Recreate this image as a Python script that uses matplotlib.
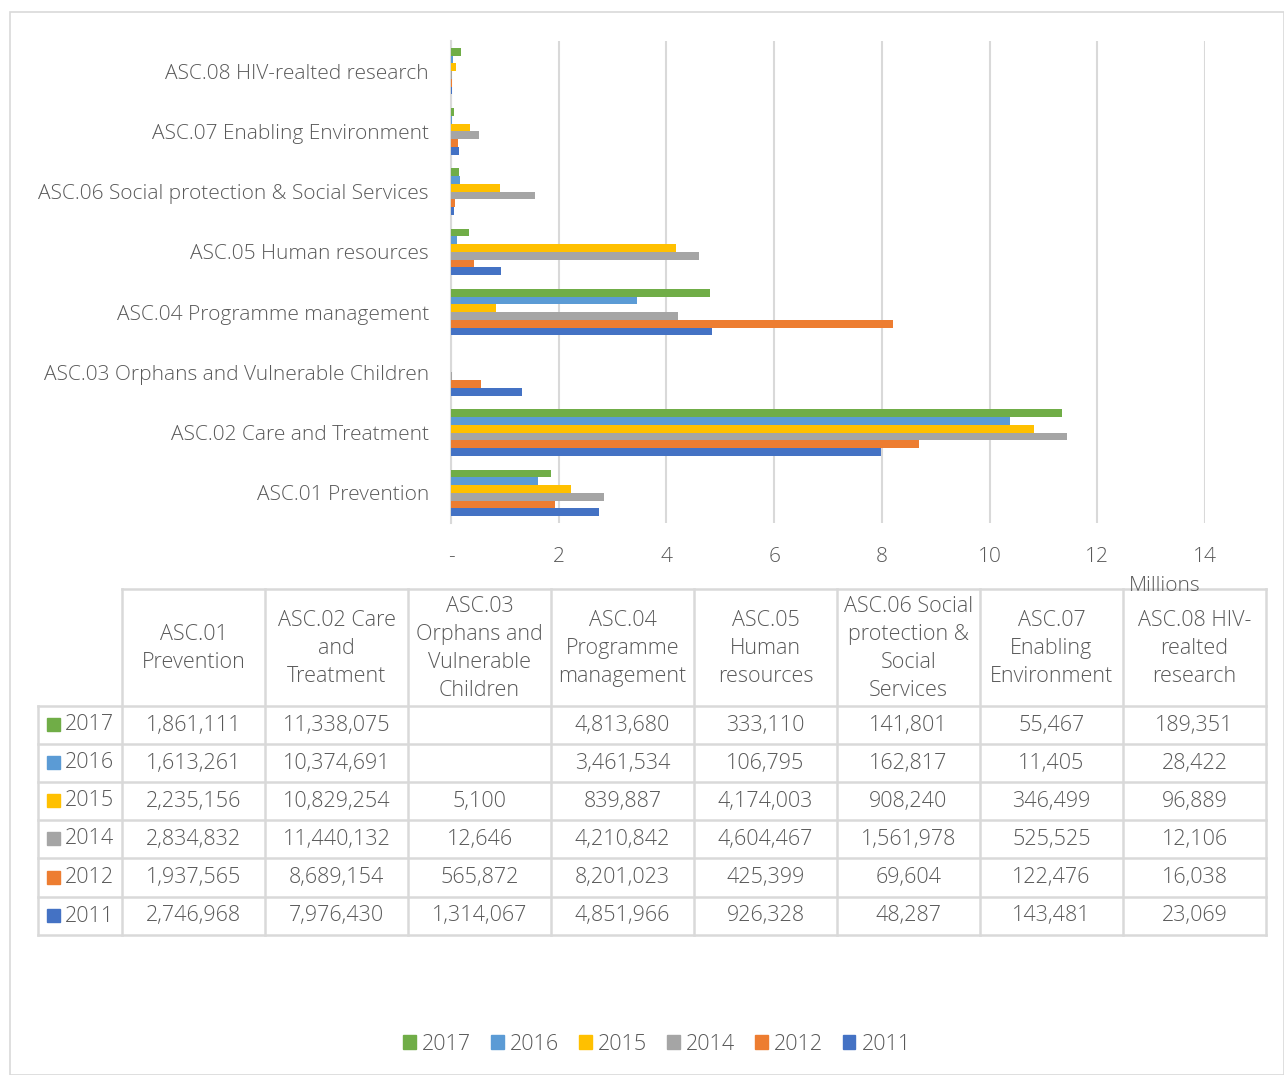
import numpy as np
import matplotlib
matplotlib.use("Agg")
import matplotlib.pyplot as plt
from matplotlib.patches import Patch, Rectangle

plt.rcParams['font.family'] = ['Open Sans', 'DejaVu Sans']
plt.rcParams['font.weight'] = 'light'

categories = ["ASC.01 Prevention", "ASC.02 Care and Treatment",
              "ASC.03 Orphans and Vulnerable Children", "ASC.04 Programme management",
              "ASC.05 Human resources", "ASC.06 Social protection & Social Services",
              "ASC.07 Enabling Environment", "ASC.08 HIV-realted research"]
table_headers = ["ASC.01\nPrevention", "ASC.02 Care\nand\nTreatment",
                 "ASC.03\nOrphans and\nVulnerable\nChildren", "ASC.04\nProgramme\nmanagement",
                 "ASC.05\nHuman\nresources", "ASC.06 Social\nprotection &\nSocial\nServices",
                 "ASC.07\nEnabling\nEnvironment", "ASC.08 HIV-\nrealted\nresearch"]
years = ["2017", "2016", "2015", "2014", "2012", "2011"]
colors = ["#70ad47", "#5b9bd5", "#ffc000", "#a5a5a5", "#ed7d31", "#4472c4"]

v2017 = [1861111, 11338075, np.nan, 4813680, 333110, 141801, 55467, 189351]
v2016 = [1613261, 10374691, np.nan, 3461534, 106795, 162817, 11405, 28422]
v2015 = [2235156, 10829254, 5100, 839887, 4174003, 908240, 346499, 96889]
v2014 = [2834832, 11440132, 12646, 4210842, 4604467, 1561978, 525525, 12106]
v2012 = [1937565, 8689154, 565872, 8201023, 425399, 69604, 122476, 16038]
v2011 = [2746968, 7976430, 1314067, 4851966, 926328, 48287, 143481, 23069]
series = [v2017, v2016, v2015, v2014, v2012, v2011]

W, H = 1284, 1075
txt = "#595959"
grid = "#d9d9d9"
fs = 15

fig = plt.figure(figsize=(W / 100, H / 100), dpi=100)

# bar chart area
ax = fig.add_axes([451 / W, 1 - 523 / H, (1205 - 451) / W, (523 - 41) / H])
n = len(series)
bw = 0.128
y = np.arange(len(categories))
for i, (vals, c) in enumerate(zip(series, colors)):
    off = (n - 1) / 2 * bw - i * bw
    ax.barh(y + off, np.array(vals) / 1e6, height=bw, color=c, zorder=3)
ax.set_xlim(0, 14)
ax.set_ylim(-0.5, len(categories) - 0.5)
ax.set_yticks(y)
ax.set_yticklabels(categories, fontsize=fs, color=txt)
ax.set_xticks(range(0, 15, 2))
ax.set_xticklabels(["-"] + [str(t) for t in range(2, 15, 2)], fontsize=fs, color=txt)
ax.tick_params(axis='y', length=0, pad=16)
ax.tick_params(axis='x', length=0, pad=17)
ax.grid(axis='x', color=grid, linewidth=1.5, zorder=0)
for s in ["top", "right", "bottom"]:
    ax.spines[s].set_visible(False)
ax.spines["left"].set_color(grid)
ax.spines["left"].set_linewidth(1.5)

# overlay in pixel coordinates for border, table and legend
ov = fig.add_axes([0, 0, 1, 1], zorder=-1)
ov.set_xlim(0, W)
ov.set_ylim(H, 0)
ov.axis("off")
ov.add_patch(Rectangle((10, 12), W - 10, H - 12, fill=False, edgecolor=grid, linewidth=1.2))

top = fig.add_axes([0, 0, 1, 1], zorder=5)
top.set_xlim(0, W)
top.set_ylim(H, 0)
top.axis("off")
top.patch.set_alpha(0)
top.text(1165, 586, "Millions", fontsize=fs, color=txt, ha="center", va="center")

col_x = [38, 122, 265, 408, 551, 694, 837, 980, 1123, 1266]
row_y = [589, 706, 744, 782, 820, 858, 897, 935]
lk = dict(color=grid, linewidth=1.8)
top.plot([col_x[1], col_x[-1]], [row_y[0], row_y[0]], **lk)
for yy in row_y[1:]:
    top.plot([col_x[0], col_x[-1]], [yy, yy], **lk)
top.plot([col_x[0], col_x[0]], [row_y[1], row_y[-1]], **lk)
for xx in col_x[1:]:
    top.plot([xx, xx], [row_y[0], row_y[-1]], **lk)

tfs = 15.5
for j, h in enumerate(table_headers):
    top.text((col_x[j + 1] + col_x[j + 2]) / 2, (row_y[0] + row_y[1]) / 2 + 1, h,
             ha="center", va="center", fontsize=tfs, color=txt, linespacing=1.45)

for i, (yr, vals, c) in enumerate(zip(years, series, colors)):
    yc = (row_y[i + 1] + row_y[i + 2]) / 2
    top.add_patch(Rectangle((47, yc - 7), 13, 13, color=c))
    top.text(65, yc, yr, ha="left", va="center", fontsize=tfs, color=txt)
    for j, v in enumerate(vals):
        if np.isnan(v):
            continue
        top.text((col_x[j + 1] + col_x[j + 2]) / 2, yc, f"{int(v):,}",
                 ha="center", va="center", fontsize=tfs, color=txt)

handles = [Patch(color=c, label=yr) for yr, c in zip(years, colors)]
fig.legend(handles=handles, loc="center", bbox_to_anchor=(657 / W, 1 - 1044 / H), ncol=6,
           frameon=False, fontsize=tfs, labelcolor=txt, handlelength=0.6, handleheight=0.6,
           handletextpad=0.3, columnspacing=0.9)

fig.savefig("out.png", dpi=100)
